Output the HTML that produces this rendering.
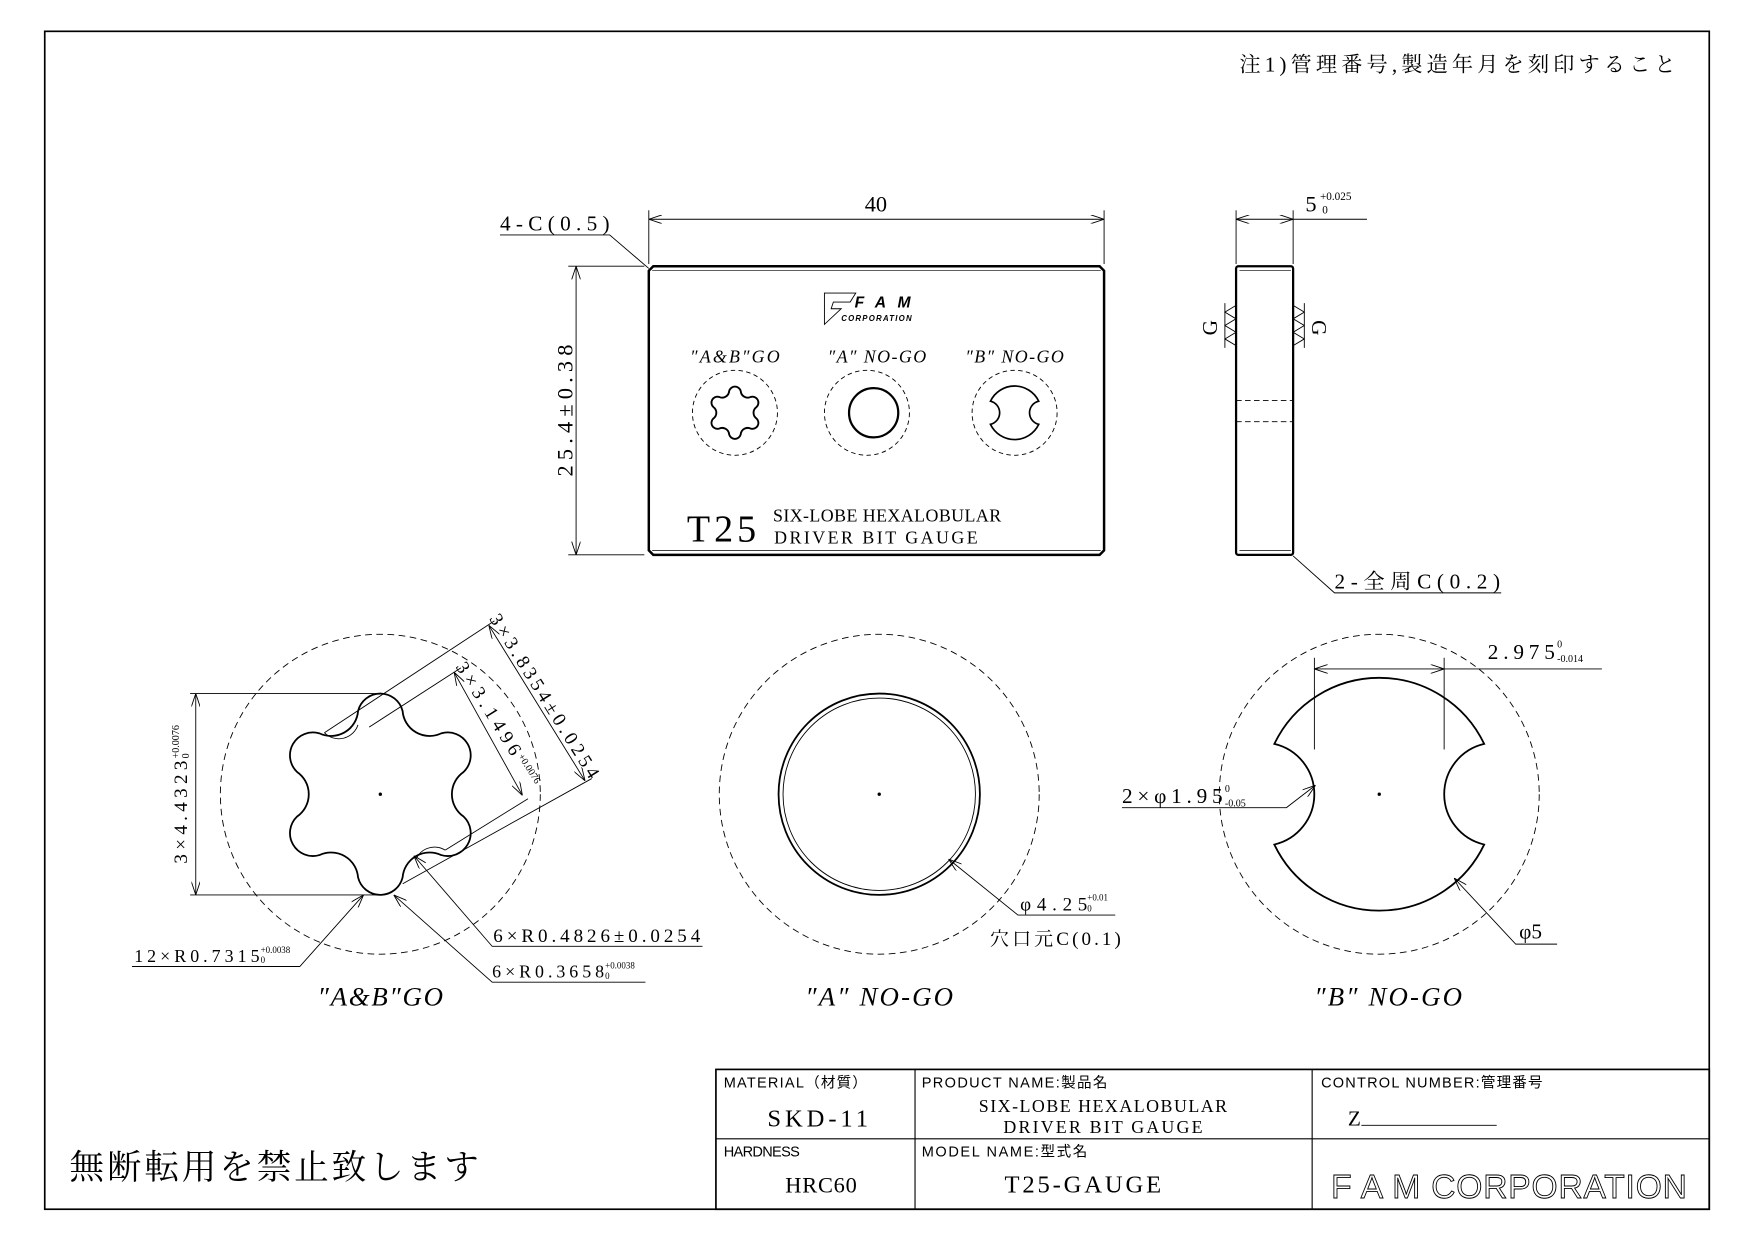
<!DOCTYPE html>
<html><head><meta charset="utf-8"><style>
html,body{margin:0;padding:0;background:#fff}
svg{display:block}
text{font-family:"Liberation Serif","Noto Serif CJK JP",serif;fill:#000}
.s{font-family:"Liberation Sans","Noto Sans CJK JP",sans-serif}
.i{font-style:italic}
</style></head><body>
<svg width="1754" height="1240" viewBox="0 0 1568 1108.5" preserveAspectRatio="none" xmlns="http://www.w3.org/2000/svg">
<defs>
<marker id="a" viewBox="0 0 12 8" refX="12" refY="4" markerWidth="12" markerHeight="8" orient="auto-start-reverse" markerUnits="userSpaceOnUse"><path d="M0,0 L12,4 L0,8" fill="none" stroke="#000" stroke-width="0.8"/></marker>
<path id="torx" d="M414.4,729.9 A20.5,20.5 0 0 1 394.4,764.4 A24.2,24.2 0 0 0 359.9,784.4 A20.5,20.5 0 0 1 320.1,784.4 A24.2,24.2 0 0 0 285.6,764.4 A20.5,20.5 0 0 1 265.6,729.9 A24.2,24.2 0 0 0 265.6,690.1 A20.5,20.5 0 0 1 285.6,655.6 A24.2,24.2 0 0 0 320.1,635.6 A20.5,20.5 0 0 1 359.9,635.6 A24.2,24.2 0 0 0 394.4,655.6 A20.5,20.5 0 0 1 414.4,690.1 A24.2,24.2 0 0 0 414.4,729.9 Z"/>
<path id="bsh" d="M93.8,-45 A104,104 0 0 0 -93.8,-45 A46.2,46.2 0 0 1 -93.8,45 A104,104 0 0 0 93.8,45 A46.2,46.2 0 0 1 93.8,-45 Z"/>
</defs>
<g fill="none" stroke="#000">
<rect x="40" y="28" width="1488" height="1053" stroke-width="1.5"/>
<!-- plate -->
<path d="M584,238 L983,238 L987,242 L987,492 L983,496 L584,496 L580,492 L580,242 Z" stroke-width="2.2"/>
<line x1="583" y1="242" x2="984" y2="242" stroke-width="0.6"/>
<line x1="583" y1="492" x2="984" y2="492" stroke-width="0.6"/>
<line x1="580" y1="188" x2="580" y2="236" stroke-width="0.8"/>
<line x1="987" y1="188" x2="987" y2="236" stroke-width="0.8"/>
<line x1="580" y1="196" x2="987" y2="196" stroke-width="0.8" marker-start="url(#a)" marker-end="url(#a)"/>
<polyline points="447,210 545,210 580,240" stroke-width="0.8"/>
<line x1="508" y1="238" x2="576" y2="238" stroke-width="0.8"/>
<line x1="508" y1="496" x2="576" y2="496" stroke-width="0.8"/>
<line x1="515" y1="238" x2="515" y2="496" stroke-width="0.8" marker-start="url(#a)" marker-end="url(#a)"/>
<!-- logo -->
<path d="M737,262 L765,262 L760,270 L745,270 L743,276 L752,276 L737,290 Z" stroke-width="0.8"/>
<!-- plate holes -->
<circle cx="657" cy="369" r="38" stroke-dasharray="4,3" stroke-width="0.8"/>
<circle cx="775" cy="369" r="38" stroke-dasharray="4,3" stroke-width="0.8"/>
<circle cx="907" cy="369" r="38" stroke-dasharray="4,3" stroke-width="0.8"/>
<use href="#torx" transform="translate(657,369) scale(0.26) translate(-340,-710)" stroke-width="6.5"/>
<circle cx="781" cy="369" r="22" stroke-width="2"/>
<use href="#bsh" transform="translate(907,369) scale(0.23)" stroke-width="6.5"/>
<!-- side view -->
<rect x="1105" y="238" width="51" height="258" rx="2" stroke-width="2"/>
<line x1="1108" y1="242" x2="1154" y2="242" stroke-width="0.6"/>
<line x1="1108" y1="492" x2="1154" y2="492" stroke-width="0.6"/>
<line x1="1105" y1="358" x2="1156" y2="358" stroke-dasharray="5,3" stroke-width="0.8"/>
<line x1="1105" y1="377" x2="1156" y2="377" stroke-dasharray="5,3" stroke-width="0.8"/>
<line x1="1105" y1="188" x2="1105" y2="236" stroke-width="0.8"/>
<line x1="1156" y1="188" x2="1156" y2="236" stroke-width="0.8"/>
<line x1="1105" y1="196" x2="1156" y2="196" stroke-width="0.8" marker-start="url(#a)" marker-end="url(#a)"/>
<line x1="1156" y1="196" x2="1222" y2="196" stroke-width="0.8"/>
<path d="M1105,273 L1095,279 L1105,285 L1095,291 L1105,297 L1095,303 L1105,309 M1095,271 L1095,311" stroke-width="0.8"/>
<path d="M1156,273 L1166,279 L1156,285 L1166,291 L1156,297 L1166,303 L1156,309 M1166,271 L1166,311" stroke-width="0.8"/>
<polyline points="1156,497 1193,530 1342,530" stroke-width="0.8"/>
<!-- Torx big -->
<circle cx="340" cy="710" r="143" stroke-dasharray="6,4" stroke-width="0.8"/>
<use href="#torx" stroke-width="1.6"/>
<line x1="170" y1="620" x2="340" y2="620" stroke-width="0.8"/>
<line x1="170" y1="800" x2="340" y2="800" stroke-width="0.8"/>
<line x1="175" y1="620" x2="175" y2="800" stroke-width="0.8" marker-start="url(#a)" marker-end="url(#a)"/>
<line x1="290" y1="655" x2="442" y2="555" stroke-width="0.8"/>
<line x1="360" y1="790" x2="529" y2="696" stroke-width="0.8"/>
<line x1="437" y1="559" x2="523" y2="698" stroke-width="0.8" marker-start="url(#a)" marker-end="url(#a)"/>
<line x1="330" y1="650" x2="412" y2="597" stroke-width="0.8"/>
<line x1="398" y1="760" x2="472" y2="714" stroke-width="0.8"/>
<line x1="406" y1="601" x2="467" y2="711" stroke-width="0.8" marker-start="url(#a)" marker-end="url(#a)"/>
<path d="M290,655 A18,18 0 0 0 320,648" stroke-width="0.8"/>
<path d="M398,760 A18,18 0 0 0 372,768" stroke-width="0.8"/>
<polyline points="118,864 268,864 325,800" stroke-width="0.8" marker-end="url(#a)"/>
<polyline points="628,846 440,846 370,765" stroke-width="0.8" marker-end="url(#a)"/>
<polyline points="577,878 440,878 352,800" stroke-width="0.8" marker-end="url(#a)"/>
<circle cx="340" cy="710" r="1" fill="#000"/>
<!-- A no-go -->
<circle cx="786" cy="710" r="143" stroke-dasharray="6,4" stroke-width="0.8"/>
<circle cx="786" cy="710" r="90" stroke-width="1.6"/>
<circle cx="786" cy="710" r="86" stroke-width="0.8"/>
<circle cx="786" cy="710" r="1" fill="#000"/>
<polyline points="997,818 910,818 848,768" stroke-width="0.8" marker-end="url(#a)"/>
<!-- B no-go -->
<circle cx="1233" cy="710" r="143" stroke-dasharray="6,4" stroke-width="0.8"/>
<use href="#bsh" transform="translate(1233,710)" stroke-width="1.6"/>
<circle cx="1233" cy="710" r="1" fill="#000"/>
<line x1="1175" y1="588" x2="1175" y2="670" stroke-width="0.8"/>
<line x1="1291" y1="588" x2="1291" y2="670" stroke-width="0.8"/>
<line x1="1175" y1="598" x2="1291" y2="598" stroke-width="0.8" marker-start="url(#a)" marker-end="url(#a)"/>
<line x1="1291" y1="598" x2="1432" y2="598" stroke-width="0.8"/>
<polyline points="1003,722 1150,722 1176,702" stroke-width="0.8" marker-end="url(#a)"/>
<polyline points="1392,844 1355,844 1300,785" stroke-width="0.8" marker-end="url(#a)"/>
<!-- title block -->
<rect x="640" y="956" width="888" height="125" stroke-width="1.5"/>
<line x1="640" y1="1018" x2="1528" y2="1018" stroke-width="1"/>
<line x1="818" y1="956" x2="818" y2="1081" stroke-width="1"/>
<line x1="1173" y1="956" x2="1173" y2="1081" stroke-width="1"/>
<line x1="1217" y1="1006" x2="1338" y2="1006" stroke-width="0.8"/>
</g>
<!-- texts -->
<text x="1108" y="64" font-size="19" textLength="390">注1)管理番号,製造年月を刻印すること</text>
<text x="783" y="189" font-size="20" text-anchor="middle">40</text>
<text x="447" y="206" font-size="19" textLength="98">4-C(0.5)</text>
<text transform="translate(512,367) rotate(-90)" font-size="20" text-anchor="middle" textLength="118">25.4±0.38</text>
<text x="764" y="275" font-size="14" class="s i" font-weight="bold" textLength="50">FAM</text>
<text x="752" y="287" font-size="7" class="s i" font-weight="bold" textLength="63">CORPORATION</text>
<text x="657" y="324" font-size="16" class="i" text-anchor="middle" textLength="80">″A&amp;B″GO</text>
<text x="784" y="324" font-size="16" class="i" text-anchor="middle" textLength="88">″A″ NO-GO</text>
<text x="907" y="324" font-size="16" class="i" text-anchor="middle" textLength="88">″B″ NO-GO</text>
<text x="614" y="484" font-size="34" textLength="62">T25</text>
<text x="793" y="466" font-size="16" text-anchor="middle" textLength="204">SIX-LOBE HEXALOBULAR</text>
<text x="783" y="486" font-size="16" text-anchor="middle" textLength="182">DRIVER BIT GAUGE</text>
<text x="1167" y="189" font-size="20">5</text>
<text x="1180" y="179" font-size="10">+0.025</text>
<text x="1182" y="191" font-size="10">0</text>
<text transform="translate(1088,293) rotate(-90)" font-size="19" text-anchor="middle">G</text>
<text transform="translate(1173,293) rotate(90)" font-size="19" text-anchor="middle">G</text>
<text x="1193" y="526" font-size="19" textLength="148">2-全周C(0.2)</text>
<text transform="translate(167,772) rotate(-90)" font-size="17" textLength="92">3×4.4323</text>
<text transform="translate(160,678) rotate(-90)" font-size="9">+0.0076</text>
<text transform="translate(169,678) rotate(-90)" font-size="9">0</text>
<text transform="translate(437,553) rotate(58)" font-size="17" textLength="170">3×3.8354±0.0254</text>
<text transform="translate(407,596) rotate(58)" font-size="17" textLength="95">3×3.1496</text>
<text transform="translate(463,676) rotate(58)" font-size="9">+0.0076</text>
<text x="120" y="860" font-size="16" textLength="112">12×R0.7315</text>
<text x="233" y="852" font-size="8">+0.0038</text>
<text x="233" y="861" font-size="8">0</text>
<text x="441" y="842" font-size="17" textLength="185">6×R0.4826±0.0254</text>
<text x="440" y="874" font-size="16" textLength="100">6×R0.3658</text>
<text x="541" y="866" font-size="8">+0.0038</text>
<text x="541" y="875" font-size="8">0</text>
<text x="340" y="899" font-size="24" class="i" text-anchor="middle" textLength="112">″A&amp;B″GO</text>
<text x="786" y="899" font-size="24" class="i" text-anchor="middle" textLength="132">″A″ NO-GO</text>
<text x="1241" y="899" font-size="24" class="i" text-anchor="middle" textLength="132">″B″ NO-GO</text>
<text x="912" y="814" font-size="17" textLength="60">φ4.25</text>
<text x="972" y="805" font-size="8">+0.01</text>
<text x="972" y="815" font-size="8">0</text>
<text x="885" y="845" font-size="17" textLength="117">穴口元C(0.1)</text>
<text x="1330" y="589" font-size="19" textLength="60">2.975</text>
<text x="1392" y="579" font-size="9">0</text>
<text x="1392" y="592" font-size="9">-0.014</text>
<text x="1003" y="718" font-size="19" textLength="90">2×φ1.95</text>
<text x="1095" y="708" font-size="9">0</text>
<text x="1095" y="721" font-size="9">-0.05</text>
<text x="1358" y="839" font-size="19">φ5</text>
<text x="647" y="972" font-size="13" class="s" textLength="128">MATERIAL（材質）</text>
<text x="731" y="1007" font-size="22" text-anchor="middle" textLength="90">SKD-11</text>
<text x="647" y="1034" font-size="13" class="s" textLength="68">HARDNESS</text>
<text x="734" y="1066" font-size="20" text-anchor="middle" textLength="64">HRC60</text>
<text x="824" y="972" font-size="13" class="s" textLength="166">PRODUCT NAME:製品名</text>
<text x="986" y="994" font-size="16" text-anchor="middle" textLength="222">SIX-LOBE HEXALOBULAR</text>
<text x="986" y="1013" font-size="16" text-anchor="middle" textLength="178">DRIVER BIT GAUGE</text>
<text x="824" y="1034" font-size="13" class="s" textLength="148">MODEL NAME:型式名</text>
<text x="968" y="1066" font-size="22" text-anchor="middle" textLength="140">T25-GAUGE</text>
<text x="1181" y="972" font-size="13" class="s" textLength="198">CONTROL NUMBER:管理番号</text>
<text x="1205" y="1006" font-size="19">Z</text>
<text x="1190" y="1071" font-size="30" style="fill:#fff;stroke:#000;stroke-width:0.8" textLength="318" class="s">F A M CORPORATION</text>
<text x="62" y="1054" font-size="31" textLength="366">無断転用を禁止致します</text>
</svg>
</body></html>
